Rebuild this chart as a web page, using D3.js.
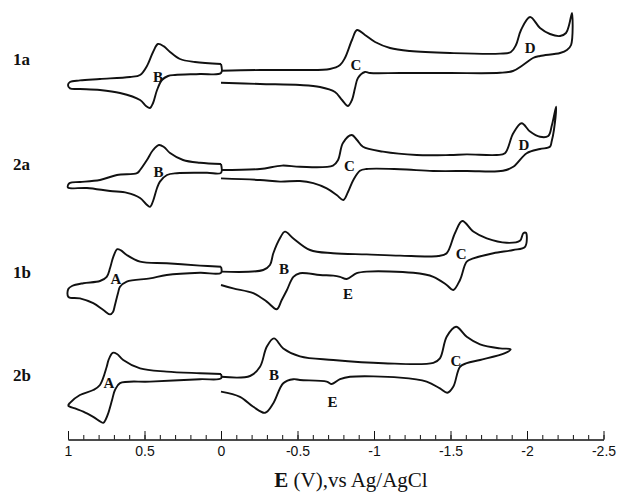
<!DOCTYPE html>
<html><head><meta charset="utf-8">
<script src="https://cdn.jsdelivr.net/npm/d3@7"></script>
<style>html,body{margin:0;padding:0;background:#fff;}</style>
</head><body>
<svg id="chart" width="620" height="492"></svg>
<script>
// Potential axis ticks (V vs Ag/AgCl)
const majorTicks = [1, 0.5, 0, -0.5, -1, -1.5, -2, -2.5];
const tickLabels = ["1", "0.5", "0", "-0.5", "-1", "-1.5", "-2", "-2.5"];
const minorTicks = d3.range(0, 36).map(k => +(1 - k * 0.1).toFixed(2));

// Traces: [E (V), current (arb., stacked)]
const trace1aLeft = [[0,94],[0.170,94.5],[0.268,95.25],[0.333,97],[0.373,98.4],[0.412,99],[0.444,97],[0.484,93.5],[0.529,91.25],[0.595,90.75],[0.791,90.25],[0.922,89.9],[0.987,89.5],[1.0,88.75],[0.987,87.9],[0.922,87.75],[0.791,87.5],[0.660,86.75],[0.529,85],[0.490,83.5],[0.464,83],[0.444,84.25],[0.418,87.5],[0.386,90],[0.346,91],[0.301,91.25],[0.137,91.5],[0,91.75]];
const trace1aRight = [[0,92.3],[-0.255,92.5],[-0.516,92.5],[-0.712,92.75],[-0.778,93.75],[-0.810,95.5],[-0.856,100],[-0.889,102.5],[-0.941,101.25],[-1.007,99.5],[-1.105,98],[-1.235,97.25],[-1.497,96.75],[-1.824,96.6],[-1.895,97],[-1.928,98.75],[-1.961,102.5],[-2.020,105.75],[-2.085,103],[-2.150,101.5],[-2.216,101],[-2.255,101.75],[-2.275,103.75],[-2.294,106.75],[-2.288,98.75],[-2.261,97.5],[-2.216,96.75],[-2.085,96],[-2.039,95.5],[-1.974,93.75],[-1.908,92.25],[-1.824,91.8],[-1.497,91.75],[-1.170,91.75],[-0.974,91.75],[-0.941,92],[-0.895,90.5],[-0.876,88],[-0.856,85],[-0.830,83.5],[-0.791,85],[-0.745,87],[-0.647,88.25],[-0.516,88.75],[-0.255,89],[0,89.3]];
const trace2aLeft = [[0,69],[0.137,69.3],[0.248,70],[0.333,71.75],[0.373,73.25],[0.405,73.75],[0.444,72.5],[0.484,70],[0.529,67.5],[0.549,66.7],[0.680,66.25],[0.791,65],[0.922,64.5],[0.987,64.3],[1.0,63.75],[1.0,63.1],[0.876,63],[0.725,62.25],[0.614,61.8],[0.529,60.5],[0.490,59],[0.464,58.3],[0.444,59.75],[0.418,63],[0.399,64.6],[0.353,66.25],[0.288,66.7],[0.092,66.8],[0,66.8]];
const trace2aRight = [[0,67.5],[-0.255,67.75],[-0.399,68.6],[-0.516,68.3],[-0.732,68.6],[-0.765,70],[-0.797,74.25],[-0.854,76.25],[-0.889,75],[-0.928,73.3],[-1.059,72.1],[-1.279,71.25],[-1.497,71.25],[-1.606,71.4],[-1.802,71.25],[-1.856,71.7],[-1.910,76.7],[-1.965,79.2],[-2.020,77.1],[-2.085,75.8],[-2.139,76],[-2.163,78.75],[-2.190,83.3],[-2.176,77.5],[-2.161,74.6],[-2.150,73.3],[-2.085,72.75],[-1.998,71.7],[-1.910,68.3],[-1.843,67.3],[-1.606,67.25],[-1.386,67.25],[-1.170,67.7],[-0.952,67.75],[-0.908,67.3],[-0.865,65],[-0.830,62],[-0.799,60],[-0.756,61.25],[-0.691,62.9],[-0.603,64.2],[-0.516,64.75],[-0.386,64.6],[-0.255,65],[0,65.4]];
const trace1bLeft = [[0,43.3],[0.137,43.6],[0.355,44.2],[0.529,44.6],[0.616,46.25],[0.654,47.4],[0.678,47.7],[0.704,45.8],[0.725,43],[0.747,40.8],[0.791,39.75],[0.900,39.2],[0.974,38.5],[0.998,37.75],[0.998,35.8],[0.922,35.4],[0.835,34.2],[0.769,32.5],[0.725,31.4],[0.706,32],[0.693,33.75],[0.673,36.75],[0.660,38.3],[0.616,39.6],[0.464,40.4],[0.355,41.25],[0.137,41.8],[0,41.8]];
const trace1bRight = [[0,42.1],[-0.276,42.5],[-0.320,43.75],[-0.342,46.7],[-0.386,50.5],[-0.418,52.1],[-0.473,50.4],[-0.582,47.5],[-0.732,46.7],[-0.952,46.4],[-1.170,46.1],[-1.420,46],[-1.475,46.7],[-1.529,51.7],[-1.577,54.75],[-1.649,52.1],[-1.737,50.4],[-1.867,49.3],[-1.954,49.8],[-1.976,51.7],[-1.993,51.8],[-1.987,48.3],[-1.910,47.5],[-1.780,46.7],[-1.649,45.4],[-1.606,44.6],[-1.562,40],[-1.518,37.5],[-1.475,38.75],[-1.388,40.8],[-1.257,41.8],[-0.952,42.1],[-0.887,41.7],[-0.822,40.25],[-0.778,40.8],[-0.734,41.1],[-0.647,41.25],[-0.516,41.7],[-0.473,40.8],[-0.431,37.5],[-0.397,35],[-0.364,32.7],[-0.299,34.6],[-0.211,36.7],[-0.080,37.9],[0,38.75]];
const trace2bLeft = [[0,16.5],[0.137,16.7],[0.355,17.1],[0.529,17.9],[0.639,20],[0.680,21.5],[0.708,21.8],[0.735,20],[0.747,18.3],[0.791,13.75],[0.835,12.5],[0.922,11.25],[0.987,9.3],[0.998,8.6],[0.954,7.9],[0.900,7.1],[0.835,5.8],[0.769,4.3],[0.752,5.25],[0.737,6.7],[0.712,10],[0.693,12.5],[0.660,14.2],[0.464,14.6],[0.137,15.2],[0,15.4]];
const trace2bRight = [[0,15.8],[-0.190,16],[-0.255,18.3],[-0.299,23.3],[-0.346,25.4],[-0.407,22.9],[-0.516,20.9],[-0.734,20],[-1.061,19.2],[-1.388,19.3],[-1.431,20.4],[-1.475,25.8],[-1.536,28.3],[-1.606,25.8],[-1.693,23.9],[-1.824,22.9],[-1.893,22.7],[-1.856,21.7],[-1.693,20],[-1.606,19.2],[-1.562,18.3],[-1.518,13.3],[-1.479,11.8],[-1.431,12.9],[-1.344,14.6],[-1.170,15.6],[-0.843,15.8],[-0.778,15.2],[-0.724,14],[-0.691,14.6],[-0.516,15],[-0.473,15.2],[-0.407,14.2],[-0.342,9.2],[-0.288,6.8],[-0.211,8.3],[-0.124,10.8],[0,12.1]];

const segments = [
  {pts: trace1aLeft, closed: true}, {pts: trace1aRight, closed: false},
  {pts: trace2aLeft, closed: true}, {pts: trace2aRight, closed: false},
  {pts: trace1bLeft, closed: true}, {pts: trace1bRight, closed: false},
  {pts: trace2bLeft, closed: true}, {pts: trace2bRight, closed: false}
];

// Trace names and their current levels
const traceNames = ["1a", "2a", "1b", "2b"];
const traceNameLevels = [93.75, 67.5, 40.5, 14.75];

// Peak labels [text, E, current]
const peakLabels = [
  ["B", 0.412, 89.6], ["C", -0.882, 92.5], ["D", -2.020, 96.75],
  ["B", 0.408, 65.75], ["C", -0.840, 67.25], ["D", -1.980, 72.5],
  ["A", 0.686, 39], ["B", -0.412, 41.5], ["C", -1.569, 45.25], ["E", -0.830, 35.25],
  ["A", 0.732, 13], ["B", -0.346, 15], ["C", -1.536, 18.5], ["E", -0.729, 8.25]
];

const svg = d3.select("#chart");
const x = d3.scaleLinear().domain([1, -2.5]).range([68, 603.5]);
const y = d3.scaleLinear().domain([0, 110]).range([440, 0]);

const line = d3.line().x(d => x(d[0])).y(d => y(d[1])).curve(d3.curveCatmullRom.alpha(0.5));

segments.forEach(s => {
  const pts = s.closed ? s.pts.concat([s.pts[0]]) : s.pts;
  svg.append("path").attr("d", line(pts))
    .attr("fill", "none").attr("stroke", "#111").attr("stroke-width", 1.9)
    .attr("stroke-linejoin", "round");
});

// Axis
const axisY = 439.5;
const gMinor = svg.append("g").attr("transform", `translate(0,${axisY})`)
  .call(d3.axisBottom(x).tickValues(minorTicks).tickSizeInner(-4.5).tickSizeOuter(0).tickFormat(""));
const gMajor = svg.append("g").attr("transform", `translate(0,${axisY})`)
  .call(d3.axisBottom(x).tickValues(majorTicks).tickSizeInner(-8.5).tickSizeOuter(0).tickPadding(7)
    .tickFormat((d, i) => tickLabels[i]));
[gMinor, gMajor].forEach(g => {
  g.selectAll("path,line").attr("stroke", "#111").attr("stroke-width", 1);
});
gMajor.selectAll("text").attr("font-family", "'Liberation Sans', Arial, sans-serif")
  .attr("font-size", 14).attr("fill", "#111");

// Axis title
const title = svg.append("text").attr("x", 351).attr("y", 487).attr("text-anchor", "middle")
  .attr("font-family", "'Liberation Serif', 'Times New Roman', serif").attr("font-size", 21).attr("fill", "#111");
title.append("tspan").attr("font-weight", "bold").text("E");
title.append("tspan").text(" (V),vs Ag/AgCl");

// Trace names
svg.selectAll("text.tname").data(traceNames).enter().append("text")
  .attr("class", "tname").attr("x", 13).attr("y", (d, i) => y(traceNameLevels[i]))
  .attr("font-family", "'Liberation Serif', 'Times New Roman', serif").attr("font-weight", "bold")
  .attr("font-size", 17).attr("fill", "#111").text(d => d);

// Peak labels
svg.selectAll("text.plabel").data(peakLabels).enter().append("text")
  .attr("class", "plabel").attr("x", d => x(d[1])).attr("y", d => y(d[2]))
  .attr("text-anchor", "middle")
  .attr("font-family", "'Liberation Serif', 'Times New Roman', serif").attr("font-weight", "bold")
  .attr("font-size", 15).attr("fill", "#111").text(d => d[0]);
</script>
</body></html>
